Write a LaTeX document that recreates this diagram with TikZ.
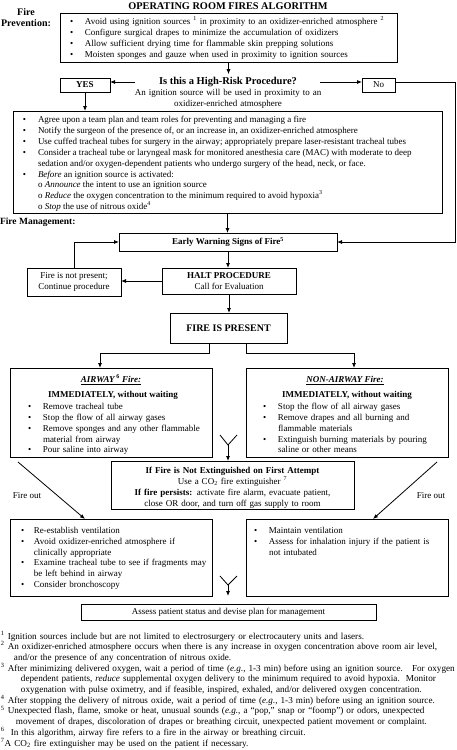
\documentclass[tikz,border=0pt]{standalone}
\usepackage{fontspec}
\setmainfont{Liberation Serif}
\usetikzlibrary{arrows.meta}
\newcommand{\myfs}{\fontsize{9}{10.9}\selectfont}
\newcommand{\fnfs}{\fontsize{9.15}{10.7}\selectfont}
\newcommand{\bl}[1][15pt]{\leavevmode\llap{\makebox[#1][l]{\textbullet}}}
\newcommand{\ind}[1][15pt]{\makebox[#1]{}}
\begin{document}
\begin{tikzpicture}[x=1pt,y=-1pt,
  every node/.style={inner sep=0pt, outer sep=0pt},
  box/.style={draw, line width=0.8pt, anchor=north west, align=center, font=\myfs},
  txt/.style={anchor=base west, align=left, text width=420pt, font=\myfs},
  ln1/.style={anchor=base west, font=\myfs},
  ctxt/.style={anchor=base, align=center, text width=300pt, font=\myfs},
  arr/.style={draw, line width=0.8pt, -{Latex[length=5pt,width=4pt]}},
  ln/.style={draw, line width=0.8pt}]
\useasboundingbox (0,0) rectangle (456,750);

% title and labels
\node[anchor=base, font=\fontsize{10.3}{12}\selectfont\bfseries] (title) at (228,9) {OPERATING ROOM FIRES ALGORITHM};
\node[anchor=base, align=center, font=\fontsize{10}{11.5}\selectfont\bfseries] (fplabel) at (26,26.5) {Fire\\Prevention:};
\node[anchor=base west, font=\fontsize{9.5}{11}\selectfont\bfseries] (fmlabel) at (0,224.5) {Fire Management:};

% prevention
\node[box, minimum width=337pt, minimum height=49pt] (prev) at (60,13) {};
\node[txt] (prevtxt) at (85,24.5) {\bl Avoid using ignition sources \textsuperscript{1} in proximity to an oxidizer-enriched atmosphere \textsuperscript{2}\\
\bl Configure surgical drapes to minimize the accumulation of oxidizers\\
\bl Allow sufficient drying time for flammable skin prepping solutions\\
\bl Moisten sponges and gauze when used in proximity to ignition sources};

% question
\node[anchor=base, font=\fontsize{10.5}{12}\selectfont\bfseries] (q) at (228,84.5) {Is this a High-Risk Procedure?};
\node[ctxt] (qsub) at (228,95.5) {An ignition source will be used in proximity to an\\oxidizer-enriched atmosphere};
\node[box, minimum width=50pt, minimum height=14pt, font=\myfs\bfseries] (yes) at (60,78) {YES};
\node[box, minimum width=33pt, minimum height=14pt] (no) at (362,78) {No};
\coordinate (qy) at (0,82);
\coordinate (qL) at (135,82);
\coordinate (qR) at (320,82);
\coordinate (rc) at (455,82);
\draw[arr, shorten >=3pt] (prev.south) -- (prev.south |- q.north);
\draw[arr] (qL) -- (yes.east |- qy);
\draw[arr] (qR) -- (no.west |- qy);

% big box
\node[box, minimum width=429pt, minimum height=102pt] (big) at (13,111) {};
\node[ln1] (b1) at (23,122.5) {\textbullet};
\node[ln1] (t1) at (38,122.5) {Agree upon a team plan and team roles for preventing and managing a fire};
\node[ln1] (b2) at (23,133.4) {\textbullet};
\node[ln1] (t2) at (38,133.4) {Notify the surgeon of the presence of, or an increase in, an oxidizer-enriched atmosphere};
\node[ln1] (b3) at (23,144.3) {\textbullet};
\node[ln1] (t3) at (38,144.3) {Use cuffed tracheal tubes for surgery in the airway; appropriately prepare laser-resistant tracheal tubes};
\node[ln1] (b4) at (23,155.2) {\textbullet};
\node[ln1] (t4) at (38,155.2) {Consider a tracheal tube or laryngeal mask for monitored anesthesia care (MAC) with moderate to deep};
\node[ln1] (t5) at (38,166.1) {sedation and/or oxygen-dependent patients who undergo surgery of the head, neck, or face.};
\node[ln1] (b6) at (23,177) {\textbullet};
\node[ln1] (t6) at (38,177) {\textit{Before} an ignition source is activated:};
\node[ln1] (t7) at (38,187.9) {o\ \textit{Announce} the intent to use an ignition source};
\node[ln1] (t8) at (38,198.8) {o\ \textit{Reduce} the oxygen concentration to the minimum required to avoid hypoxia\textsuperscript{3}};
\node[ln1] (t9) at (38,209.7) {o\ \textit{Stop} the use of nitrous oxide\textsuperscript{4}};
\draw[arr] (yes.south) -- (yes.south |- big.north);

% early warning
\node[box, minimum width=218pt, minimum height=18pt, font=\myfs\bfseries] (ew) at (119,233) {Early Warning Signs of Fire\textsuperscript{5}};
\draw[arr] (big.south) -- (big.south |- ew.north);
\draw[arr] (no.east |- qy) -- (rc) -- (rc |- ew.east) -- (ew.east);

% halt
\node[box, minimum width=94pt, minimum height=28pt] (fnp) at (27,268) {Fire is not present;\\Continue procedure};
\node[box, minimum width=134pt, minimum height=26pt] (halt) at (162,268) {\textbf{HALT PROCEDURE}\\Call for Evaluation};
\draw[arr] (fnp.north) -- (fnp.north |- ew.west) -- (ew.west);
\draw[arr] (ew.south) -- (ew.south |- halt.north);
\draw[arr] (halt.west) -- (fnp.east |- halt.west);

% fire is present
\node[box, minimum width=117pt, minimum height=30pt, font=\fontsize{10}{12}\selectfont\bfseries] (fip) at (170,313) {FIRE IS PRESENT};
\draw[arr] (halt.south) -- (halt.south |- fip.north);

% airway / non-airway
\node[box, minimum width=202pt, minimum height=89pt] (airway) at (10,368) {};
\node[box, minimum width=202pt, minimum height=89pt] (nonair) at (246,368) {};
\draw[arr] ([xshift=-19.5pt]fip.south) -- ++(0,10) -| ([xshift=-11pt]airway.north);
\draw[arr] ([xshift=17.5pt]fip.south) -- ++(0,10) -| ([xshift=7pt]nonair.north);

\node[anchor=base, font=\myfs\bfseries] (awt) at (111,382.5) {\underline{\textit{AIRWAY}\textsuperscript{\,6}\textit{ Fire:}}};
\node[anchor=base, font=\myfs\bfseries] (awi) at (113,397.5) {IMMEDIATELY, without waiting};
\node[txt, text width=165pt] (awtxt) at (43,409.3) {\bl Remove tracheal tube\\
\bl Stop the flow of all airway gases\\
\bl Remove sponges and any other flammable\\
material from airway\\
\bl Pour saline into airway};

\node[anchor=base, font=\myfs\bfseries] (nat) at (345,382.5) {\underline{\textit{NON-AIRWAY Fire:}}};
\node[anchor=base, font=\myfs\bfseries] (nai) at (347,397.5) {IMMEDIATELY, without waiting};
\node[txt, text width=165pt] (natxt) at (278,409.3) {\bl Stop the flow of all airway gases\\
\bl Remove drapes and all burning and\\
flammable materials\\
\bl Extinguish burning materials by pouring\\
saline or other means};

% merge 1
\node[box, minimum width=243pt, minimum height=48pt] (ifne) at (111,461) {};
\node[ctxt] (ifnetxt) at (232.5,473.5) {\textbf{If Fire is Not Extinguished on First Attempt}\\
Use a CO\textsubscript{2} fire extinguisher \textsuperscript{7}\\
\textbf{If fire persists:} activate fire alarm, evacuate patient,\\
close OR door, and turn off gas supply to room};
\coordinate (y1l) at (220,435);
\coordinate (y1r) at (237,435);
\coordinate (y1) at (228,445);
\draw[ln] (y1l) -- (y1) -- (y1r);
\draw[arr] (y1) -- (y1 |- ifne.north);

% fire out
\node[box, minimum width=202pt, minimum height=77pt] (bl) at (10,519) {};
\node[box, minimum width=202pt, minimum height=77pt] (br) at (246,519) {};
\coordinate (d1s) at (18,462);
\coordinate (d2s) at (437,462);
\draw[arr] (d1s) -- ([xshift=75pt]bl.north west);
\draw[arr] (d2s) -- ([xshift=127pt]br.north west);
\node[anchor=base, font=\myfs] (fo1) at (27,498) {Fire out};
\node[anchor=base, font=\myfs] (fo2) at (431,498) {Fire out};

\node[txt, text width=175pt] (bltxt) at (34,533.2) {\bl[13pt]Re-establish ventilation\\
\bl[13pt]Avoid oxidizer-enriched atmosphere if\\
clinically appropriate\\
\bl[13pt]Examine tracheal tube to see if fragments may\\
be left behind in airway\\
\bl[13pt]Consider bronchoscopy};
\node[txt, text width=175pt] (brtxt) at (269,533.2) {\bl Maintain ventilation\\
\bl Assess for inhalation injury if the patient is\\
not intubated};

% merge 2
\node[box, minimum width=295pt, minimum height=16pt] (assess) at (81,604) {Assess patient status and devise plan for management};
\coordinate (y2l) at (220,576);
\coordinate (y2r) at (237,576);
\coordinate (y2) at (228,585);
\draw[ln] (y2l) -- (y2) -- (y2r);
\draw[arr, shorten >=8pt] (y2) -- (y2 |- assess.north);

% footnotes
\node[txt, text width=460pt, font=\fnfs] (fn) at (1,639) {\textsuperscript{1} Ignition sources include but are not limited to electrosurgery or electrocautery units and lasers.\\
\textsuperscript{2} An oxidizer-enriched atmosphere occurs when there is any increase in oxygen concentration above room air level,\\
\ind[13pt]and/or the presence of any concentration of nitrous oxide.\\
\textsuperscript{3} After minimizing delivered oxygen, wait a period of time (\textit{e.g.}, 1-3 min) before using an ignition source.\quad For oxygen\\
\ind[20pt]dependent patients, \textit{reduce} supplemental oxygen delivery to the minimum required to avoid hypoxia.\ \ Monitor\\
\ind[20pt]oxygenation with pulse oximetry, and if feasible, inspired, exhaled, and/or delivered oxygen concentration.\\
\textsuperscript{4} After stopping the delivery of nitrous oxide, wait a period of time (\textit{e.g.}, 1-3 min) before using an ignition source.\\
\textsuperscript{5} Unexpected flash, flame, smoke or heat, unusual sounds (\textit{e.g.}, a “pop,” snap or “foomp”) or odors, unexpected\\
\ind[15pt]movement of drapes, discoloration of drapes or breathing circuit, unexpected patient movement or complaint.\\
\textsuperscript{6}\ \ In this algorithm, airway fire refers to a fire in the airway or breathing circuit.\\
\textsuperscript{7}A CO\textsubscript{2} fire extinguisher may be used on the patient if necessary.};
\end{tikzpicture}
\end{document}
